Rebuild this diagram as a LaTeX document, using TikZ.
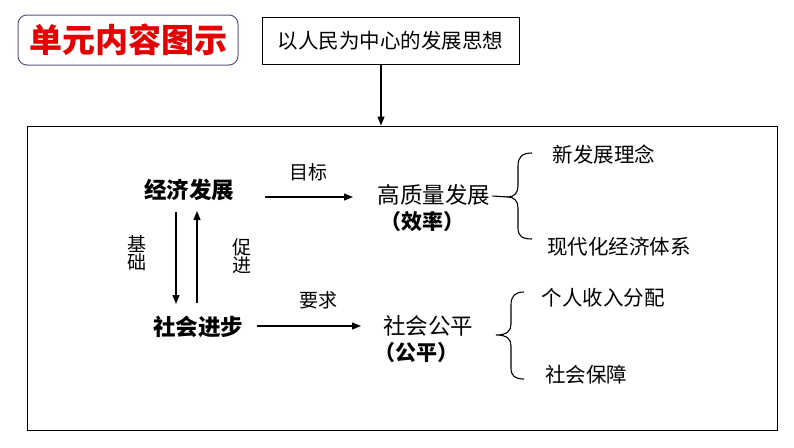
\documentclass[tikz,border=0pt]{standalone}
\usepackage{fontspec}
\newfontfamily\cjk{Noto Sans CJK SC}
\usetikzlibrary{arrows.meta,calc}
\begin{document}
\begin{tikzpicture}[x=1pt,y=-1pt,
  txt/.style={inner sep=0pt,font=\cjk\fontsize{20.5}{22}\selectfont},
  mtxt/.style={inner sep=0pt,font=\cjk\fontsize{22.5}{24}\selectfont},
  btxt/.style={inner sep=0pt,font=\cjk\bfseries\fontsize{22.5}{24}\selectfont},
  lbl/.style={inner sep=0pt,font=\cjk\fontsize{19}{18}\selectfont,align=center},
  arr/.style={line width=1.2pt,-{Triangle[length=9pt,width=7pt]}},
  bracestyle/.style={line width=1.1pt}]
\useasboundingbox (0,0) rectangle (794,447);
% title
\node[draw=black!45!blue!35!gray,line width=1pt,rounded corners=9pt,minimum width=220pt,minimum height=50pt,inner sep=0pt,
  text=red!90!black,font=\cjk\bfseries\fontsize{33}{36}\selectfont] (title) at (128,40) {单元内容图示};
% top box
\node[draw,line width=1pt,minimum width=257pt,minimum height=47pt,inner sep=0pt,
  font=\cjk\fontsize{20.5}{22}\selectfont] (top) at (390.5,40.5) {以人民为中心的发展思想};
% big box
\node[draw,line width=1pt,minimum width=750pt,minimum height=304pt,inner sep=0pt] (big) at (402,278) {};
\coordinate (topout) at (381,64);
\draw[arr] (topout) -- (topout |- big.north);
% main nodes
\node[btxt] (econ) at (189,190) {经济发展};
\node[btxt] (soc) at (198,327) {社会进步};
\node[mtxt] (hq) at (434,195) {高质量发展};
\node[btxt,font=\cjk\bfseries\fontsize{21}{23}\selectfont] (eff) at (422,222) {（效率）};
\node[mtxt] (fair) at (428,326) {社会公平};
\node[btxt,font=\cjk\bfseries\fontsize{21}{23}\selectfont] (fair2) at (416,353) {（公平）};
% horizontal arrows
\coordinate (a1s) at (265,197); \coordinate (a1e) at (353,197);
\draw[arr] (a1s) -- (a1e);
\node[lbl] (goal) at (308,172) {目标};
\coordinate (a2s) at (257,326); \coordinate (a2e) at (361,326);
\draw[arr] (a2s) -- (a2e);
\node[lbl] (req) at (318,300) {要求};
% vertical arrows
\coordinate (d1s) at (176,212); \coordinate (d1e) at (176,304);
\draw[arr] (d1s) -- (d1e);
\coordinate (u1s) at (197,303); \coordinate (u1e) at (197,211);
\draw[arr] (u1s) -- (u1e);
\node[lbl] (base) at (137,253) {基\\础};
\node[lbl] (prom) at (242,256) {促\\进};
% brace 1
\coordinate (b1) at (508,197);
\draw[bracestyle] (hq.east) ++(2,1) -- (b1);
\draw[bracestyle] (532,153) .. controls (522,153) and (518,157) .. (518,166) -- (518,186)
  .. controls (518,193) and (514,197) .. (b1)
  .. controls (514,197) and (518,201) .. (518,208) -- (518,228)
  .. controls (518,236) and (522,239) .. (532,239);
% brace 2
\coordinate (b2) at (496,335);
\draw[bracestyle] (524,292) .. controls (515,292) and (511,296) .. (511,305) -- (511,324)
  .. controls (511,331) and (507,335) .. (b2)
  .. controls (507,335) and (511,339) .. (511,346) -- (511,368)
  .. controls (511,376) and (515,379) .. (524,379);
% right items
\node[txt] (r1) at (604,155) {新发展理念};
\node[txt] (r2) at (619,247) {现代化经济体系};
\node[txt] (r3) at (603,298) {个人收入分配};
\node[txt] (r4) at (586,375) {社会保障};
\end{tikzpicture}
\end{document}
